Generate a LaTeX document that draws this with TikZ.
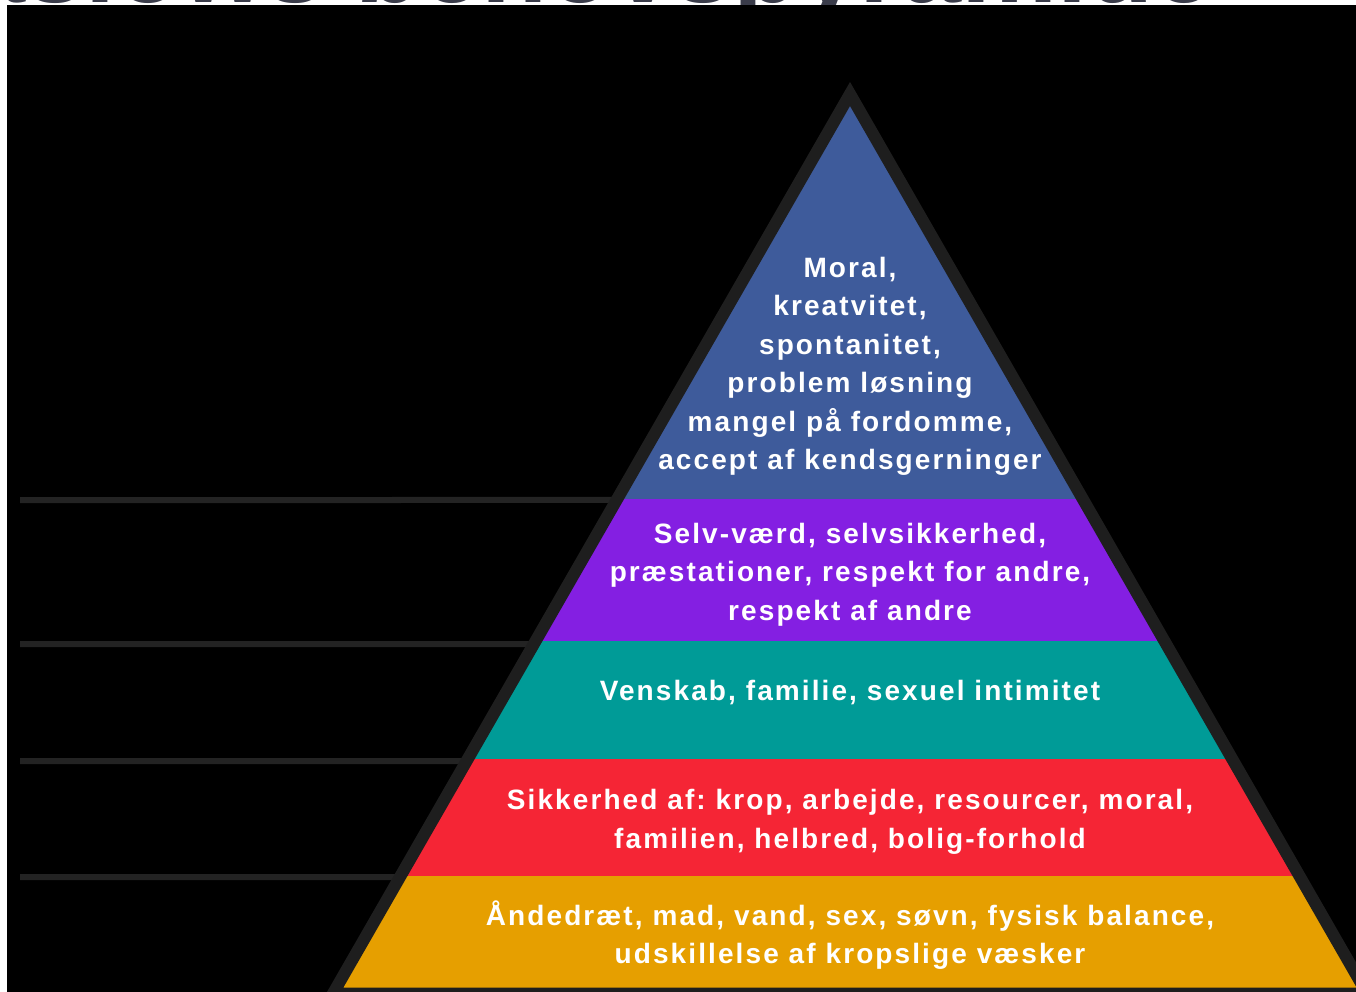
\documentclass[tikz,border=0pt]{standalone}
\usepackage{fontspec}
\usetikzlibrary{calc}
\newfontfamily\pyrfont[LetterSpace=7.5]{Liberation Sans}
\newfontfamily\titlefont{Liberation Sans}
\frenchspacing
\definecolor{bgblack}{HTML}{000000}
\definecolor{edgegray}{HTML}{1E1E1E}
\definecolor{linegray}{HTML}{232323}
\definecolor{titlegray}{HTML}{3A3C4A}
\definecolor{bandblue}{HTML}{3E5B9B}
\definecolor{bandpurple}{HTML}{841FE2}
\definecolor{bandteal}{HTML}{009B97}
\definecolor{bandred}{HTML}{F52535}
\definecolor{bandorange}{HTML}{E69F00}
\tikzset{
  pyredge/.style={draw=edgegray, line width=12pt, line join=miter},
  levelline/.style={draw=linegray, line width=6pt},
  bandtext/.style={font=\pyrfont\bfseries\fontsize{28}{38.5}\selectfont\frenchspacing, text=white,
                   align=center, anchor=base, inner sep=0pt},
}
\begin{document}
\begin{tikzpicture}[x=1pt,y=-1pt]
\useasboundingbox (0,0) rectangle (1356,992);
\fill[white] (0,0) rectangle (1356,992);
% cut-off title at the top
\begin{scope}
\clip (0,0) rectangle (1356,992);
\node[font=\titlefont\bfseries\fontsize{108}{120}\selectfont, text=titlegray,
      anchor=base west, inner sep=0pt] (title) at (-125,3) {Maslows behovspyramide};
\end{scope}
\fill[bgblack] (7,5) rectangle (1360,996);
% pyramid corners
\coordinate (apex) at (850,94);
\coordinate (bl) at (333,993.5);
\coordinate (br) at (1367,993.5);
% level lines on the left
\foreach \yy/\nm in {500/a,644/b,761/c,877/d}{
  \coordinate (L\nm) at (20,\yy);
  \coordinate (R\nm) at ($(apex)!{(\yy-94)/899.5}!(bl)$);
  \draw[levelline] (L\nm) -- (R\nm);
}
% bands
\begin{scope}
\clip (apex) -- (bl) -- (br) -- cycle;
\fill[bandblue]   (300,80)  rectangle (1400,499);
\fill[bandpurple] (300,499) rectangle (1400,641);
\fill[bandteal]   (300,641) rectangle (1400,758.5);
\fill[bandred]    (300,758.5) rectangle (1400,875.5);
\fill[bandorange] (300,875.5) rectangle (1400,1000);
\end{scope}
\draw[pyredge] (apex) -- (bl) -- (br) -- cycle;
% texts (anchored at the baseline of the last line)
\node[bandtext] (t1) at (850,469.5) {Moral,\\kreatvitet,\\spontanitet,\\problem løsning\\mangel på fordomme,\\accept af kendsgerninger};
\node[bandtext] (t2) at (850,620) {Selv-værd, selvsikkerhed,\\præstationer, respekt for andre,\\respekt af andre};
\node[bandtext] (t3) at (850,700) {Venskab, familie, sexuel intimitet};
\node[bandtext] (t4) at (850,848) {Sikkerhed af: krop, arbejde, resourcer, moral,\\familien, helbred, bolig-forhold};
\node[bandtext] (t5) at (850,963.5) {Åndedræt, mad, vand, sex, søvn, fysisk balance,\\udskillelse af kropslige væsker};
\end{tikzpicture}
\end{document}
